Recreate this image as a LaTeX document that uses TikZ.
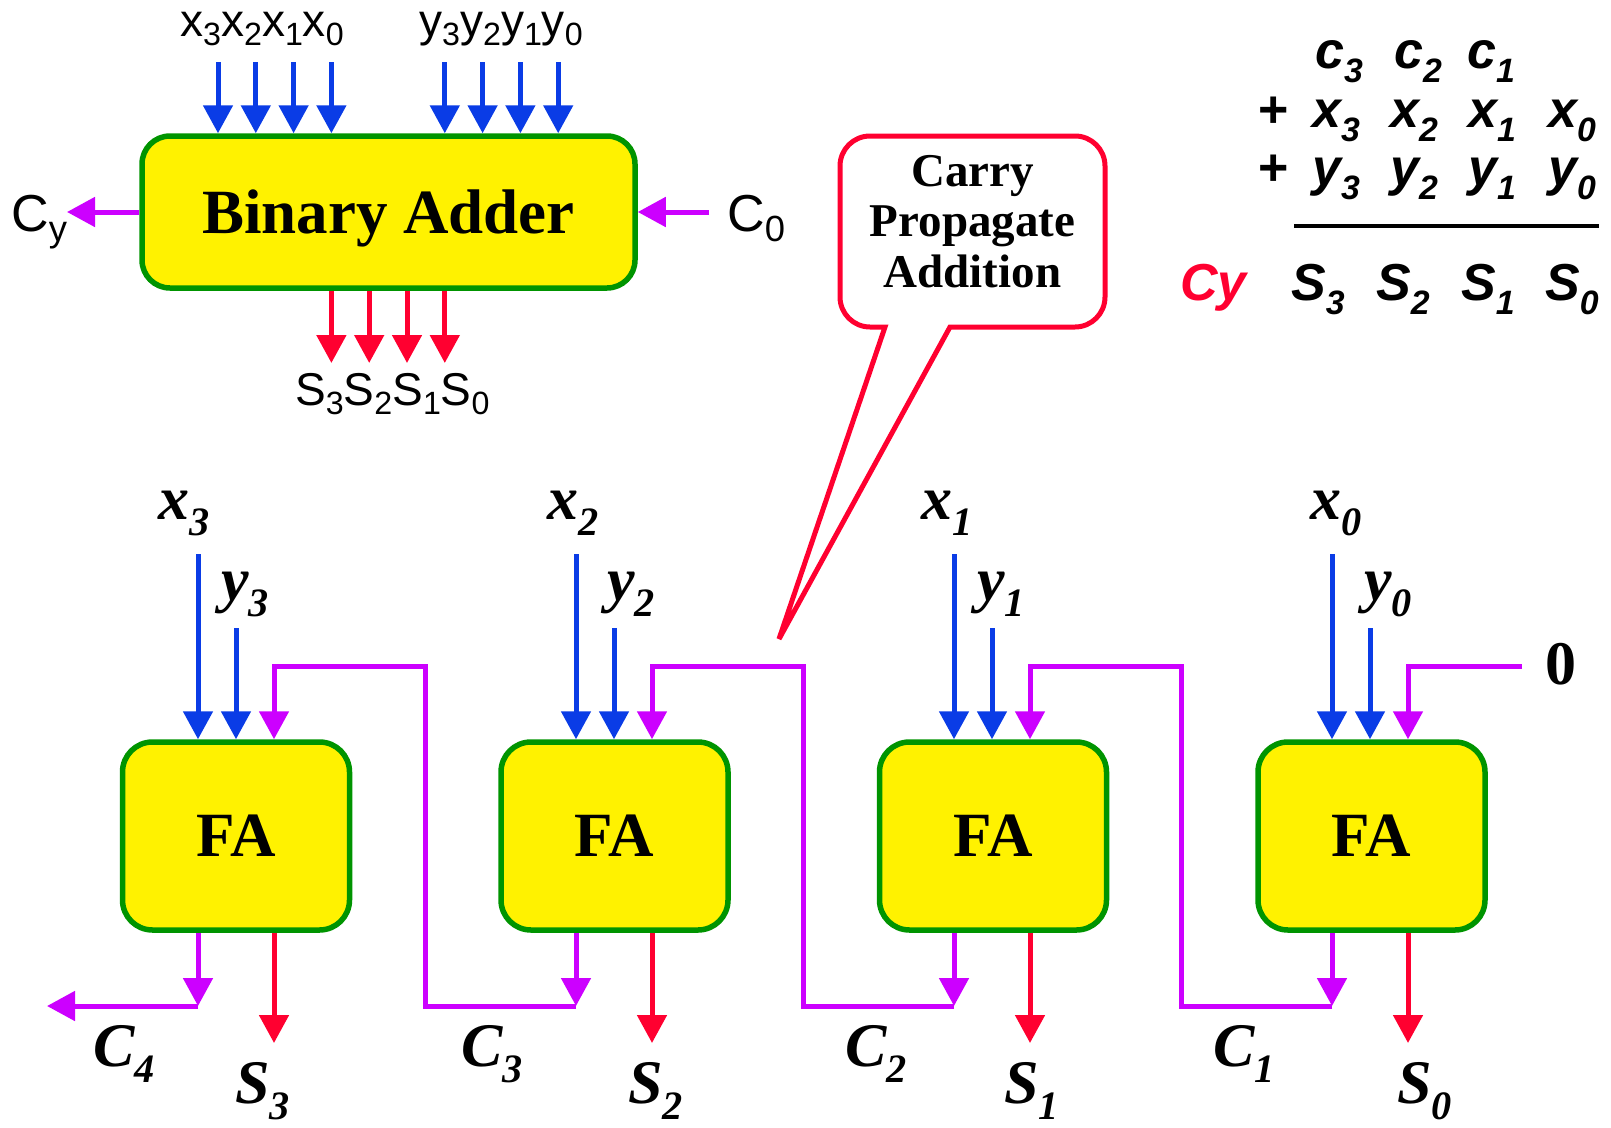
\documentclass[tikz,border=0pt]{standalone}
\usepackage{fontspec}
\setmainfont{Liberation Serif}
\setsansfont{Liberation Sans}
\usepackage{graphicx}
\usetikzlibrary{arrows.meta,positioning,calc}
\definecolor{wireblue}{HTML}{0A3CE6}
\definecolor{wirepurple}{HTML}{CC00FF}
\definecolor{wirered}{HTML}{FF0030}
\definecolor{boxgreen}{HTML}{009400}
\newcommand{\lo}[1]{\raisebox{-0.27em}{\scalebox{0.65}{#1}}}
\newcommand{\los}[1]{\raisebox{-0.2em}{\scalebox{0.7}{#1}}}
\newcommand{\fsz}[1]{\fontsize{#1}{#1}\selectfont}

\begin{document}
\begin{tikzpicture}[x=1pt,y=-1pt,
  bx/.style={draw=boxgreen,line width=5.5pt,fill=yellow,rounded corners=28pt,text depth=0pt,font=\fsz{63}\bfseries},
  fabox/.style={bx,minimum width=227pt,minimum height=188pt,rounded corners=30pt},
  lb/.style={inner sep=0pt,anchor=base west},
  tl/.style={lb,font=\fsz{46}\sffamily},
  itl/.style={lb,font=\fsz{62}\bfseries\itshape},
  eql/.style={lb,font=\fsz{52}\sffamily\bfseries\itshape},
  a/.style={line width=5pt,-{Triangle[length=28pt,width=29pt]}},
  ab/.style={a,wireblue}, ap/.style={a,wirepurple}, ar/.style={a,wirered}]
\useasboundingbox (0,0) rectangle (1611,1127);
\fill[white] (0,0) rectangle (1611,1127);
% block symbol
\node[bx,minimum width=493pt,minimum height=152pt] (ba) at (388.5,212) {Binary Adder};
\coordinate (xa3) at (218,62); \coordinate (xa2) at (255.8,62); \coordinate (xa1) at (293.6,62); \coordinate (xa0) at (331.4,62);
\coordinate (ya3) at (444.8,62); \coordinate (ya2) at (482.6,62); \coordinate (ya1) at (520.4,62); \coordinate (ya0) at (558.2,62);
\coordinate (sa3) at (331.4,363); \coordinate (sa2) at (369.2,363); \coordinate (sa1) at (407,363); \coordinate (sa0) at (444.8,363);
\draw[ab](xa3)--(xa3|-ba.north);\draw[ab](xa2)--(xa2|-ba.north);\draw[ab](xa1)--(xa1|-ba.north);\draw[ab](xa0)--(xa0|-ba.north);
\draw[ab](ya3)--(ya3|-ba.north);\draw[ab](ya2)--(ya2|-ba.north);\draw[ab](ya1)--(ya1|-ba.north);\draw[ab](ya0)--(ya0|-ba.north);
\draw[ar](sa3|-ba.south)--(sa3);\draw[ar](sa2|-ba.south)--(sa2);\draw[ar](sa1|-ba.south)--(sa1);\draw[ar](sa0|-ba.south)--(sa0);
\coordinate (cyo) at (67,212); \coordinate (c0i) at (709,212);
\draw[ap](ba.west)--(cyo);\draw[ap](c0i)--(ba.east);
\node[tl] (xl) at (180,36) {x\los{3}x\los{2}x\los{1}x\los{0}};
\node[tl] (yl) at (419,36) {y\los{3}y\los{2}y\los{1}y\los{0}};
\node[tl,font=\fsz{52}\sffamily] (cyl) at (11,231) {C\los{y}};
\node[tl,font=\fsz{52}\sffamily] (c0l) at (727,231) {C\los{0}};
\node[tl] (sl) at (295,405) {S\los{3}S\los{2}S\los{1}S\los{0}};
% callout
\node[font=\fontsize{47}{50.5}\selectfont\bfseries,align=center,inner sep=0pt] (bubt) at (972.5,221.5) {Carry\\Propagate\\Addition};
\coordinate (bnw) at (840,136); \coordinate (bse) at (1105,327);
\coordinate (bp1) at (950,327); \coordinate (bp2) at (885,327); \coordinate (btip) at (779,639);
\draw[wirered,line width=5pt] (btip) -- (bp1) [rounded corners=30pt] -- (bse) -- (bse|-bnw) -- (bnw) -- (bnw|-bse) [sharp corners] -- (bp2) -- cycle;
% column sum
\node[eql] (ec3) at (1315,68) {c\lo{3}}; \node[eql] (ec2) at (1394,68) {c\lo{2}}; \node[eql] (ec1) at (1467,68) {c\lo{1}};
\node[eql] (ep1) at (1257,127) {+}; \node[eql] (ex3) at (1312,127) {x\lo{3}}; \node[eql] (ex2) at (1390,127) {x\lo{2}};
\node[eql] (ex1) at (1468,127) {x\lo{1}}; \node[eql] (ex0) at (1548,127) {x\lo{0}};
\node[eql] (ep2) at (1257,185) {+}; \node[eql] (ey3) at (1312,185) {y\lo{3}}; \node[eql] (ey2) at (1390,185) {y\lo{2}};
\node[eql] (ey1) at (1468,185) {y\lo{1}}; \node[eql] (ey0) at (1548,185) {y\lo{0}};
\coordinate (rl) at (1294,226); \coordinate (rr) at (1599,226);
\draw[line width=4pt] (rl) -- (rr);
\node[eql,wirered] (ecy) at (1180,300) {Cy}; \node[eql] (es3) at (1291,300) {S\lo{3}}; \node[eql] (es2) at (1376,300) {S\lo{2}};
\node[eql] (es1) at (1461,300) {S\lo{1}}; \node[eql] (es0) at (1545,300) {S\lo{0}};
% ripple chain
\node[fabox] (fa3) at (236,836) {FA};
\node[fabox,right=146pt of fa3] (fa2) {FA};
\node[fabox,right=146pt of fa2] (fa1) {FA};
\node[fabox,right=146pt of fa1] (fa0) {FA};
\coordinate (x3s) at (198,554); \coordinate (y3s) at (236,628);
\coordinate (x2s) at (576,554); \coordinate (y2s) at (614,628);
\coordinate (x1s) at (954,554); \coordinate (y1s) at (992,628);
\coordinate (x0s) at (1332,554); \coordinate (y0s) at (1370,628);
\draw[ab](x3s)--(x3s|-fa3.north);\draw[ab](y3s)--(y3s|-fa3.north);
\draw[ab](x2s)--(x2s|-fa2.north);\draw[ab](y2s)--(y2s|-fa2.north);
\draw[ab](x1s)--(x1s|-fa1.north);\draw[ab](y1s)--(y1s|-fa1.north);
\draw[ab](x0s)--(x0s|-fa0.north);\draw[ab](y0s)--(y0s|-fa0.north);
\coordinate (s3o) at (274,1043); \coordinate (s2o) at (652,1043); \coordinate (s1o) at (1030,1043); \coordinate (s0o) at (1408,1043);
\draw[ar](fa3.south-|s3o)--(s3o);\draw[ar](fa2.south-|s2o)--(s2o);\draw[ar](fa1.south-|s1o)--(s1o);\draw[ar](fa0.south-|s0o)--(s0o);
\coordinate (c4a) at (198,1006); \coordinate (c4o) at (47,1006);
\draw[ap](fa3.south-|c4a)--(c4a);\draw[ap](c4a)--(c4o);
\coordinate (c3a) at (576,1006); \coordinate (c3b) at (425,1006); \coordinate (c3c) at (425,666); \coordinate (c3d) at (274,666);
\draw[ap](fa2.south-|c3a)--(c3a);\draw[ap](c3a)--(c3b)--(c3c)--(c3d)--(c3d|-fa3.north);
\coordinate (c2a) at (954,1006); \coordinate (c2b) at (803,1006); \coordinate (c2c) at (803,666); \coordinate (c2d) at (652,666);
\draw[ap](fa1.south-|c2a)--(c2a);\draw[ap](c2a)--(c2b)--(c2c)--(c2d)--(c2d|-fa2.north);
\coordinate (c1a) at (1332,1006); \coordinate (c1b) at (1181,1006); \coordinate (c1c) at (1181,666); \coordinate (c1d) at (1030,666);
\draw[ap](fa0.south-|c1a)--(c1a);\draw[ap](c1a)--(c1b)--(c1c)--(c1d)--(c1d|-fa1.north);
\coordinate (z0a) at (1522,666); \coordinate (z0b) at (1408,666);
\draw[ap](z0a)--(z0b)--(z0b|-fa0.north);
\node[lb,font=\fsz{62}\bfseries] (zl) at (1545,684) {0};
\node[itl] (lx3) at (158,519) {x\lo{3}}; \node[itl] (ly3) at (221,600) {y\lo{3}};
\node[itl] (lx2) at (547,519) {x\lo{2}}; \node[itl] (ly2) at (607,600) {y\lo{2}};
\node[itl] (lx1) at (921,519) {x\lo{1}}; \node[itl] (ly1) at (977,600) {y\lo{1}};
\node[itl] (lx0) at (1310,519) {x\lo{0}}; \node[itl] (ly0) at (1364,600) {y\lo{0}};
\node[itl] (lc4) at (93,1066) {C\lo{4}}; \node[itl] (lc3) at (461,1066) {C\lo{3}};
\node[itl] (lc2) at (845,1066) {C\lo{2}}; \node[itl] (lc1) at (1213,1066) {C\lo{1}};
\node[itl] (ls3) at (235,1103) {S\lo{3}}; \node[itl] (ls2) at (628,1103) {S\lo{2}};
\node[itl] (ls1) at (1004,1103) {S\lo{1}}; \node[itl] (ls0) at (1397,1103) {S\lo{0}};
\end{tikzpicture}
\end{document}
